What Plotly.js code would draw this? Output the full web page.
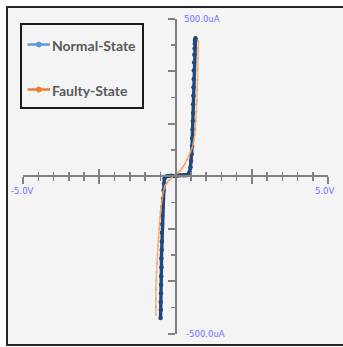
<!DOCTYPE html>
<html>
<head>
<meta charset="utf-8">
<script src="https://cdn.plot.ly/plotly-3.0.1.min.js"></script>
<style>html,body{margin:0;padding:0;background:#fff;overflow:hidden;}#chart{width:343px;height:347px;}</style>
</head>
<body>
<div id="chart"></div>
<script>
// Normal-State sweep (volts, microamps)
var normalV = [-0.49,-0.482,-0.486,-0.476,-0.472,-0.468,-0.46,-0.462,-0.452,-0.45,
  -0.446,-0.44,-0.436,-0.425,-0.41,-0.39,-0.375,-0.362,-0.33,-0.25,
  -0.15,-0.05,0.05,0.15,0.25,0.33,0.39,0.42,0.46,0.49,
  0.51,0.53,0.545,0.55,0.56,0.568,0.575,0.578,0.585,0.59,
  0.597,0.6,0.61,0.618,0.625,0.632,0.64,0.648,0.655];
var normalI = [-451,-425,-400,-372,-345,-318,-290,-262,-235,-208,
  -180,-152,-125,-98,-72,-45,-24,-8,-2,0,
  1,0,1,2,2,2,3,5,12,28,
  48,70,95,120,148,175,200,228,255,282,
  308,335,360,385,405,420,430,434,437];
// Faulty-State sweep (volts, microamps)
var faultyV = [-0.64,-0.648,-0.638,-0.643,-0.632,-0.625,-0.61,-0.59,-0.575,-0.56,
  -0.545,-0.53,-0.515,-0.495,-0.48,-0.46,-0.43,-0.40,-0.34,-0.27,
  -0.2,-0.12,-0.07,0,0.08,0.15,0.22,0.26,0.32,0.38,
  0.44,0.49,0.53,0.57,0.6,0.63,0.65,0.67,0.69,0.70,
  0.71,0.72,0.73,0.74,0.745,0.75];
var faultyI = [-441,-415,-390,-360,-332,-305,-278,-250,-222,-195,
  -168,-150,-132,-115,-100,-82,-65,-50,-29,-20,
  -13,-4,0,4,10,17,25,30,40,52,
  64,75,85,98,112,130,150,175,205,240,
  275,305,340,375,405,428];
var seriesNames = ['Normal-State', 'Faulty-State'];
var xEndLabels = ['-5.0V', '5.0V'];
var xEndValues = [-5, 5];
var yEndLabels = ['500.0uA', '-500.0uA'];
var yEndValues = [500, -500];

var W = 343, H = 347;
function px(x){return x / W;}
function py(y){return 1 - y / H;}

var axisGray = '#808080';
var data = [
  {x: normalV, y: normalI, type: 'scatter', mode: 'lines+markers', name: seriesNames[0],
   line: {color: '#1f497d', width: 3.4}, marker: {color: '#1f497d', size: 4.5},
   showlegend: false, hoverinfo: 'x+y'},
  {x: faultyV, y: faultyI, type: 'scatter', mode: 'lines+markers', name: seriesNames[1],
   line: {color: 'rgba(246,170,110,0.9)', width: 1.5}, marker: {color: 'rgba(240,140,70,0.6)', size: 2},
   showlegend: false, hoverinfo: 'x+y'},
  {x: [null], y: [null], xaxis: 'x2', yaxis: 'y2', type: 'scatter', mode: 'markers', showlegend: false, hoverinfo: 'skip'}
];

var xdom = [px(23), px(328)];
var ydom = [py(333.5), py(18.5)];
var xpos = py(176);
var ypos = px(175.5);
var common = {showgrid: false, zeroline: false, showticklabels: false, fixedrange: true};

var fx0 = px(7), fx1 = 1.2, fyT = py(7), fyB = py(345);

var layout = {
  width: W, height: H,
  margin: {l: 0, r: 0, t: 0, b: 0, pad: 0},
  paper_bgcolor: '#ffffff', plot_bgcolor: 'rgba(0,0,0,0)',
  showlegend: false,
  xaxis: Object.assign({}, common, {domain: xdom, range: [-5, 5], anchor: 'free', position: xpos,
    showline: true, linecolor: axisGray, linewidth: 2,
    ticks: 'outside', tickmode: 'linear', tick0: 0, dtick: 2.5, ticklen: 7, tickwidth: 2, tickcolor: axisGray,
    minor: {ticks: 'outside', dtick: 0.5, ticklen: 4, tickwidth: 1.5, tickcolor: axisGray}}),
  xaxis2: Object.assign({}, common, {overlaying: 'x', range: [-5, 5], anchor: 'free', position: xpos,
    showline: false, ticks: 'inside', tickmode: 'linear', tick0: 0, dtick: 2.5, ticklen: 7, tickwidth: 2, tickcolor: axisGray,
    minor: {ticks: 'inside', dtick: 0.5, ticklen: 4, tickwidth: 1.5, tickcolor: axisGray}}),
  yaxis: Object.assign({}, common, {domain: ydom, range: [-500, 500], anchor: 'free', position: ypos,
    showline: true, linecolor: axisGray, linewidth: 2,
    ticks: 'outside', tickmode: 'linear', tick0: 0, dtick: 500/3, ticklen: 7, tickwidth: 2, tickcolor: axisGray,
    minor: {ticks: 'outside', dtick: 500/6, ticklen: 4, tickwidth: 1.5, tickcolor: axisGray}}),
  yaxis2: Object.assign({}, common, {overlaying: 'y', range: [-500, 500], anchor: 'free', position: ypos, side: 'right',
    showline: false, ticks: 'inside', tickmode: 'linear', tick0: 0, dtick: 500/3, ticklen: 7, tickwidth: 2, tickcolor: axisGray,
    minor: {ticks: 'inside', dtick: 500/6, ticklen: 4, tickwidth: 1.5, tickcolor: axisGray}}),
  shapes: [
    // chart frame fill
    {type: 'rect', xref: 'paper', yref: 'paper', x0: fx0, x1: fx1, y0: fyB, y1: fyT,
     line: {width: 0}, fillcolor: '#f4f4f4', layer: 'below'},
    // chart frame border: left, top, bottom only (right edge lies outside the picture)
    {type: 'path', xref: 'paper', yref: 'paper', layer: 'below',
     path: 'M ' + fx1 + ',' + fyT + ' L ' + fx0 + ',' + fyT + ' L ' + fx0 + ',' + fyB + ' L ' + fx1 + ',' + fyB,
     line: {color: '#262626', width: 2}, fillcolor: 'rgba(0,0,0,0)'},
    // legend box
    {type: 'rect', xref: 'paper', yref: 'paper', x0: px(21), x1: px(143), y0: py(108), y1: py(24),
     line: {color: '#1a1a1a', width: 2}, fillcolor: '#f4f4f4', layer: 'below'},
    // legend samples
    {type: 'line', xref: 'paper', yref: 'paper', x0: px(27.5), x1: px(50), y0: py(44.5), y1: py(44.5),
     line: {color: '#5b9bd5', width: 2.5}},
    {type: 'circle', xref: 'paper', yref: 'paper', x0: px(36.3), x1: px(41.3), y0: py(47), y1: py(42),
     line: {color: '#5b9bd5', width: 1}, fillcolor: '#5b9bd5'},
    {type: 'line', xref: 'paper', yref: 'paper', x0: px(27.5), x1: px(50), y0: py(89.5), y1: py(89.5),
     line: {color: '#ed7d31', width: 2.5}},
    {type: 'circle', xref: 'paper', yref: 'paper', x0: px(36.3), x1: px(41.3), y0: py(92), y1: py(87),
     line: {color: '#ed7d31', width: 1}, fillcolor: '#ed7d31'}
  ],
  annotations: [
    {xref: 'paper', yref: 'paper', x: px(50), y: py(45), xanchor: 'left', yanchor: 'middle', showarrow: false,
     text: '<b>' + seriesNames[0] + '</b>', font: {family: 'Lato, sans-serif', size: 14, color: '#595959'}},
    {xref: 'paper', yref: 'paper', x: px(50), y: py(90), xanchor: 'left', yanchor: 'middle', showarrow: false,
     text: '<b>' + seriesNames[1] + '</b>', font: {family: 'Lato, sans-serif', size: 14, color: '#595959'}},
    {xref: 'x', yref: 'y', x: xEndValues[0], y: 0, xanchor: 'center', yanchor: 'middle', yshift: -15, xshift: -1, showarrow: false,
     text: xEndLabels[0], font: {family: 'DejaVu Sans, sans-serif', size: 8.5, color: '#7070ff'}},
    {xref: 'x', yref: 'y', x: xEndValues[1], y: 0, xanchor: 'center', yanchor: 'middle', yshift: -15, xshift: -3, showarrow: false,
     text: xEndLabels[1], font: {family: 'DejaVu Sans, sans-serif', size: 8.5, color: '#7070ff'}},
    {xref: 'x', yref: 'y', x: 0, y: yEndValues[0], xanchor: 'left', yanchor: 'middle', xshift: 6.5, showarrow: false,
     text: yEndLabels[0], font: {family: 'DejaVu Sans, sans-serif', size: 8.5, color: '#7070ff'}},
    {xref: 'x', yref: 'y', x: 0, y: yEndValues[1], xanchor: 'left', yanchor: 'middle', xshift: 8.5, showarrow: false,
     text: yEndLabels[1], font: {family: 'DejaVu Sans, sans-serif', size: 8.5, color: '#7070ff'}}
  ]
};

Plotly.newPlot('chart', data, layout, {staticPlot: true, displayModeBar: false});
</script>
</body>
</html>
